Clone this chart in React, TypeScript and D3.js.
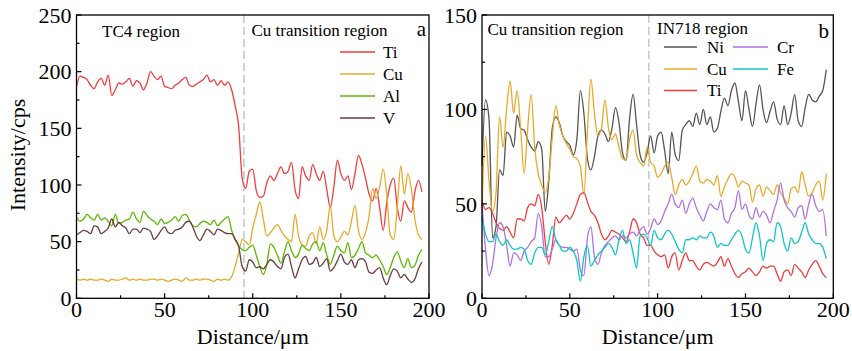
import React from "react";
import * as d3 from "d3";

// distance along the line scan, one reading every 2 µm
const distance = d3.range(0, 197, 2);

// panel a: TC4 side
const tiA = [
  187, 196, 195, 193, 188, 185, 191, 194, 188, 197,
  179, 184, 190, 189, 191, 194, 187, 192, 190, 184,
  190, 200, 196, 193, 196, 187, 186, 185, 188, 190,
  193, 195, 188, 187, 189, 191, 193, 197, 191, 193,
  188, 192, 188, 191, 184, 170, 152, 106, 97, 112,
  114, 95, 89, 90, 102, 108, 104, 110, 116, 110,
  112, 120, 96, 88, 116, 108, 104, 118, 110, 104,
  112, 96, 80, 98, 122, 110, 104, 108, 96, 110,
  126, 118, 106, 92, 86, 97, 80, 60, 84, 100,
  106, 80, 68, 86, 80, 76, 94, 104, 94,
];
const cuA = [
  17, 16, 17, 16, 17, 16, 16, 17, 16, 15,
  17, 16, 16, 17, 18, 16, 17, 16, 17, 16,
  16, 17, 17, 16, 17, 16, 15, 16, 17, 16,
  15, 18, 16, 16, 17, 16, 17, 17, 16, 15,
  17, 16, 17, 16, 19, 28, 40, 52, 50, 47,
  62, 74, 85, 70, 55, 58, 62, 65, 60, 55,
  52, 50, 74, 55, 47, 46, 55, 58, 48, 63,
  52, 60, 82, 55, 50, 54, 59, 56, 68, 82,
  60, 52, 58, 72, 97, 88, 98, 114, 92, 56,
  52, 80, 117, 92, 110, 96, 70, 56, 52,
];
const alA = [
  72, 68, 70, 74, 71, 69, 74, 69, 71, 68,
  64, 74, 66, 67, 69, 70, 76, 70, 67, 77,
  73, 70, 68, 65, 70, 66, 67, 69, 72, 68,
  73, 74, 69, 64, 63, 66, 68, 67, 65, 69,
  64, 67, 70, 72, 60, 52, 46, 43, 42, 45,
  47, 38, 28, 21, 30, 48, 45, 38, 31, 41,
  50, 42, 36, 39, 47, 44, 42, 48, 50, 42,
  49, 38, 30, 38, 46, 42, 40, 49, 36, 38,
  44, 50, 40, 38, 36, 38, 34, 28, 21, 27,
  36, 41, 33, 27, 35, 27, 29, 38, 43,
];
const vA = [
  56, 58, 60, 59, 57, 64, 63, 57, 59, 62,
  70, 63, 67, 64, 62, 57, 61, 61, 58, 62,
  61, 59, 52, 55, 60, 63, 58, 57, 60, 61,
  63, 67, 68, 63, 55, 51, 56, 61, 59, 56,
  61, 60, 58, 57, 57, 52, 46, 28, 24, 34,
  32, 27, 28, 26, 30, 34, 32, 28, 26, 36,
  39, 28, 18, 26, 34, 37, 30, 31, 36, 28,
  31, 35, 24, 27, 33, 39, 32, 30, 34, 27,
  34, 35, 32, 23, 22, 25, 27, 18, 12, 20,
  26, 24, 18, 21, 17, 14, 17, 26, 32,
];

// panel b: IN718 side
const niB = [
  70, 105, 95, 32, 38, 68, 65, 88, 86, 80,
  97, 90, 89, 84, 80, 78, 83, 79, 46, 62,
  90, 96, 93, 86, 83, 81, 76, 84, 110, 98,
  74, 68, 75, 86, 89, 87, 83, 90, 101, 93,
  77, 73, 95, 108, 92, 76, 72, 77, 86, 77,
  86, 88, 78, 66, 88, 76, 73, 89, 92, 94,
  91, 98, 92, 100, 92, 96, 88, 90, 99, 106,
  102, 110, 114, 104, 94, 110, 100, 91, 103, 113,
  100, 93, 99, 104, 95, 92, 102, 92, 98, 108,
  94, 91, 101, 108, 105, 104, 107, 110, 121,
];
const cuB = [
  48, 86, 62, 46, 56, 96, 80, 100, 115, 98,
  110, 90, 66, 90, 108, 80, 66, 60, 56, 64,
  85, 102, 92, 86, 82, 79, 75, 74, 70, 55,
  88, 116, 98, 86, 90, 105, 90, 84, 87, 80,
  74, 73, 84, 89, 76, 72, 70, 80, 72, 70,
  64, 66, 70, 72, 64, 55, 60, 63, 60, 62,
  66, 70, 62, 61, 63, 62, 60, 65, 54, 59,
  63, 66, 64, 59, 62, 61, 60, 51, 58, 60,
  54, 59, 57, 55, 60, 56, 53, 50, 58, 59,
  56, 67, 60, 54, 56, 60, 62, 52, 66,
];
const tiB = [
  52, 47, 48, 45, 40, 37, 36, 38, 35, 32,
  42, 42, 41, 48, 50, 49, 55, 48, 30, 18,
  28, 43, 40, 42, 44, 42, 45, 50, 55, 56,
  51, 46, 44, 40, 34, 31, 33, 36, 35, 34,
  32, 30, 35, 42, 40, 34, 32, 28, 28, 25,
  23, 22, 23, 16, 22, 24, 15, 20, 24, 20,
  20, 17, 15, 18, 19, 18, 17, 19, 22, 17,
  21, 17, 13, 11, 13, 14, 16, 14, 12, 14,
  17, 16, 17, 17, 13, 9, 14, 15, 12, 18,
  16, 14, 11, 15, 18, 20, 17, 13, 11,
];
const crB = [
  50, 26, 12, 18, 32, 40, 38, 28, 17, 24,
  23, 20, 25, 27, 30, 32, 45, 38, 22, 22,
  26, 31, 28, 27, 27, 26, 25, 26, 15, 12,
  32, 38, 22, 18, 24, 28, 30, 32, 33, 31,
  33, 32, 34, 35, 33, 36, 38, 34, 37, 42,
  39, 41, 46, 50, 55, 50, 48, 52, 45, 50,
  53, 48, 44, 41, 46, 50, 48, 47, 52, 42,
  40, 45, 48, 57, 47, 50, 44, 42, 48, 43,
  46, 44, 40, 46, 52, 61, 52, 48, 46, 43,
  48, 49, 42, 50, 55, 49, 46, 47, 33,
];
const feB = [
  43, 34, 30, 30, 34, 30, 28, 31, 28, 26,
  26, 27, 26, 20, 18, 24, 27, 27, 23, 30,
  38, 31, 28, 25, 25, 27, 25, 20, 9, 22,
  28, 17, 20, 23, 25, 27, 29, 27, 23, 31,
  36, 29, 31, 24, 16, 33, 34, 32, 28, 36,
  32, 31, 34, 36, 34, 30, 26, 24, 31, 31,
  32, 31, 33, 32, 32, 35, 33, 27, 29, 28,
  28, 31, 34, 36, 33, 26, 24, 32, 40, 33,
  20, 29, 31, 30, 40, 38, 29, 25, 32, 29,
  30, 35, 40, 34, 31, 29, 29, 27, 21,
];

const xTicks = [0, 50, 100, 150, 200];
const xMinor = [25, 75, 125, 175];
const yTicksA = [0, 50, 100, 150, 200, 250];
const yMinorA = [25, 75, 125, 175, 225];
const yTicksB = [0, 50, 100, 150];
const yMinorB = [25, 75, 125];
const boundary = 95; // µm, dashed line between regions

const RED = "#f03c3c";
const ORANGE = "#e8a92a";
const GREEN = "#5cb800";
const BROWN = "#6e3b3b";
const GRAY = "#555555";
const PURPLE = "#b072e2";
const CYAN = "#10c4c8";

const seriesA = [
  { name: "Ti", color: RED, values: tiA },
  { name: "Cu", color: ORANGE, values: cuA },
  { name: "Al", color: GREEN, values: alA },
  { name: "V", color: BROWN, values: vA },
];
const seriesB = [
  { name: "Ni", color: GRAY, values: niB },
  { name: "Cu", color: ORANGE, values: cuB },
  { name: "Ti", color: RED, values: tiB },
  { name: "Cr", color: PURPLE, values: crB },
  { name: "Fe", color: CYAN, values: feB },
];

const FONT = "'Liberation Serif', 'Times New Roman', serif";
const TOP = 15;
const BOTTOM = 298.3;

type Series = { name: string; color: string; values: number[] };

function Panel(props: {
  left: number;
  right: number;
  yMax: number;
  yTicks: number[];
  yMinor: number[];
  series: Series[];
}) {
  const { left, right, yMax, yTicks, yMinor, series } = props;
  const x = d3.scaleLinear().domain([0, 200]).range([left, right]);
  const y = d3.scaleLinear().domain([0, yMax]).range([BOTTOM, TOP]);
  const line = d3
    .line<number>()
    .x((_, i) => x(distance[i]))
    .y((v) => y(v))
    .curve(d3.curveMonotoneX);

  return (
    <g>
      <line
        x1={x(boundary)}
        x2={x(boundary)}
        y1={TOP}
        y2={BOTTOM}
        stroke="#bdbdbd"
        strokeWidth={1.3}
        strokeDasharray="8,4"
      />
      {series.map((s) => (
        <path key={s.name} d={line(s.values) || ""} fill="none" stroke={s.color} strokeWidth={1.3} />
      ))}
      <rect x={left} y={TOP} width={right - left} height={BOTTOM - TOP} fill="none" stroke="#000" strokeWidth={1.3} />
      {xTicks.map((t) => (
        <g key={"x" + t}>
          <line x1={x(t)} x2={x(t)} y1={BOTTOM} y2={BOTTOM - 5} stroke="#000" strokeWidth={1.2} />
          <text x={x(t)} y={317} textAnchor="middle" fontSize={22}>
            {t}
          </text>
        </g>
      ))}
      {xMinor.map((t) => (
        <line key={"xm" + t} x1={x(t)} x2={x(t)} y1={BOTTOM} y2={BOTTOM - 3} stroke="#000" strokeWidth={1.2} />
      ))}
      {yTicks.map((t) => (
        <g key={"y" + t}>
          <line x1={left} x2={left + 5} y1={y(t)} y2={y(t)} stroke="#000" strokeWidth={1.2} />
          <text x={left - 5} y={y(t)} dy="0.35em" textAnchor="end" fontSize={22}>
            {t}
          </text>
        </g>
      ))}
      {yMinor.map((t) => (
        <line key={"ym" + t} x1={left} x2={left + 3} y1={y(t)} y2={y(t)} stroke="#000" strokeWidth={1.2} />
      ))}
      <text x={(left + right) / 2} y={344} textAnchor="middle" fontSize={22}>
        Distance/μm
      </text>
    </g>
  );
}

function LegendItem(props: { x: number; y: number; len: number; gap: number; s: Series }) {
  const { x, y, len, gap, s } = props;
  return (
    <g>
      <line x1={x} x2={x + len} y1={y} y2={y} stroke={s.color} strokeWidth={1.5} />
      <text x={x + len + gap} y={y} dy="0.33em" fontSize={17}>
        {s.name}
      </text>
    </g>
  );
}

export default function App() {
  const legendA = seriesA;
  const byName = (n: string) => seriesB.find((s) => s.name === n) as Series;
  return (
    <svg
      width={852}
      height={351}
      style={{ position: "absolute", left: 0, top: 0, background: "#fff" }}
      fontFamily={FONT}
    >
      <rect width={852} height={351} fill="#fff" />
      <Panel left={76.5} right={429} yMax={250} yTicks={yTicksA} yMinor={yMinorA} series={seriesA} />
      <Panel left={482} right={833.3} yMax={150} yTicks={yTicksB} yMinor={yMinorB} series={seriesB} />

      <text transform="translate(25,155) rotate(-90)" textAnchor="middle" fontSize={22}>
        Intensity/cps
      </text>

      {/* panel a labels */}
      <text x={102} y={37} fontSize={17}>TC4 region</text>
      <text x={251.5} y={36} fontSize={17}>Cu transition region</text>
      <text x={426} y={36} textAnchor="end" fontSize={21}>a</text>
      {legendA.map((s, i) => (
        <LegendItem key={s.name} x={340} y={52 + i * 22} len={35} gap={8} s={s} />
      ))}

      {/* panel b labels */}
      <text x={487.5} y={35} fontSize={17}>Cu transition region</text>
      <text x={657} y={33.5} fontSize={17}>IN718 region</text>
      <text x={829} y={38} textAnchor="end" fontSize={21}>b</text>
      <LegendItem x={664} y={47} len={33} gap={10} s={byName("Ni")} />
      <LegendItem x={733} y={47} len={35} gap={9} s={byName("Cr")} />
      <LegendItem x={664} y={69} len={33} gap={10} s={byName("Cu")} />
      <LegendItem x={733} y={69} len={35} gap={9} s={byName("Fe")} />
      <LegendItem x={664} y={90.5} len={33} gap={10} s={byName("Ti")} />
    </svg>
  );
}
